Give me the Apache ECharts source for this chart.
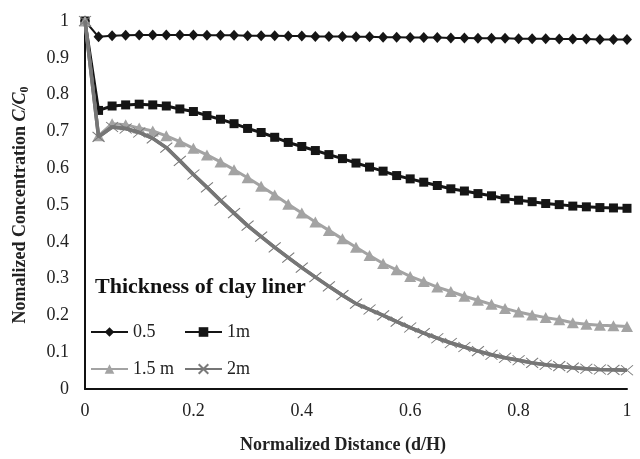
<!DOCTYPE html>
<html>
<head>
<meta charset="utf-8">
<script src="https://cdn.jsdelivr.net/npm/echarts@6/dist/echarts.min.js"></script>
<style>html,body{margin:0;padding:0;background:#fff}#c{width:640px;height:459px}</style>
</head>
<body>
<div id="c"></div>
<script>
var xValues = [0, 0.025, 0.05, 0.075, 0.1, 0.125, 0.15, 0.175, 0.2, 0.225, 0.25, 0.275, 0.3, 0.325, 0.35, 0.375, 0.4, 0.425, 0.45, 0.475, 0.5, 0.525, 0.55, 0.575, 0.6, 0.625, 0.65, 0.675, 0.7, 0.725, 0.75, 0.775, 0.8, 0.825, 0.85, 0.875, 0.9, 0.925, 0.95, 0.975, 1];
var s05 = [1, .957, .960, .961, .962, .962, .962, .962, .962, .961, .961, .961, .960, .960, .960, .959, .959, .958, .958, .958, .957, .957, .956, .956, .955, .955, .955, .954, .954, .953, .953, .953, .952, .952, .952, .951, .951, .951, .950, .950, .950];
var s1m = [1, .757, .769, .772, .774, .772, .769, .761, .754, .743, .733, .721, .708, .697, .684, .670, .659, .648, .637, .626, .614, .603, .592, .580, .571, .562, .553, .544, .538, .531, .525, .517, .513, .509, .504, .501, .497, .495, .493, .492, .491];
var s15 = [1, .688, .721, .718, .709, .701, .688, .672, .654, .636, .617, .596, .574, .551, .527, .502, .478, .454, .431, .408, .385, .363, .341, .324, .306, .292, .277, .265, .252, .241, .230, .219, .209, .201, .194, .188, .180, .176, .173, .172, .170];
var s2m = [1, .685, .712, .708, .697, .681, .656, .620, .583, .548, .512, .478, .444, .414, .385, .357, .330, .304, .279, .255, .232, .216, .200, .183, .167, .152, .138, .125, .114, .103, .093, .085, .078, .071, .066, .062, .058, .055, .053, .052, .051];
var seriesNames = ['0.5', '1m', '1.5 m', '2m'];
var legendTitle = 'Thickness of clay liner';
var xTicks = [0, 0.2, 0.4, 0.6, 0.8, 1];

function pairs(ys) { return xValues.map(function (x, i) { return [x, ys[i]]; }); }

var FONT = '"Liberation Serif", "Times New Roman", serif';
var crossPath = 'path://M0,0L10,10M10,0L0,10';

var chart = echarts.init(document.getElementById('c'), null, {renderer: 'canvas'});
var legendText = {fontFamily: FONT, fontSize: 18, color: '#222'};
function leg(name, left, top) {
  return {data: [name], left: left, top: top, itemWidth: 37, itemHeight: 12, padding: 0,
    textStyle: legendText, selectedMode: false};
}
chart.setOption({
  animation: false,
  backgroundColor: '#fff',
  title: {text: legendTitle, left: 95, top: 276, padding: 0,
    textStyle: {fontFamily: FONT, fontSize: 22, fontWeight: 'bold', color: '#111'}},
  legend: [leg(seriesNames[0], 90, 323), leg(seriesNames[1], 184, 323),
           leg(seriesNames[2], 90, 360), leg(seriesNames[3], 184, 360)],
  grid: {left: 85, right: 13, top: 21, bottom: 65, containLabel: false},
  xAxis: {
    type: 'value', min: 0, max: 1, interval: 0.2,
    name: 'Normalized Distance (d/H)', nameLocation: 'middle', nameGap: 47,
    nameTextStyle: {fontFamily: FONT, fontSize: 18, fontWeight: 'bold', color: '#222', padding: [0, 26, 0, 0]},
    axisLine: {show: true, onZero: false, lineStyle: {color: '#111', width: 2}},
    axisTick: {show: false}, splitLine: {show: false},
    axisLabel: {fontFamily: FONT, fontSize: 18, color: '#222', margin: 13,
      formatter: function (v) { return xTicks.indexOf(+v.toFixed(2)) >= 0 ? String(+v.toFixed(2)) : ''; }}
  },
  yAxis: {
    type: 'value', min: 0, max: 1, interval: 0.1,
    name: '{b|Nomalized Concentration }{i|C/C}{s|0}', nameLocation: 'middle', nameGap: 54,
    nameTextStyle: {fontFamily: FONT, fontSize: 18, fontWeight: 'bold', color: '#222',
      rich: {
        b: {fontFamily: FONT, fontSize: 18, fontWeight: 'bold', color: '#222', lineHeight: 21},
        i: {fontFamily: FONT, fontSize: 18, fontWeight: 'bold', fontStyle: 'italic', color: '#222', lineHeight: 21},
        s: {fontFamily: FONT, fontSize: 12, fontWeight: 'bold', color: '#222', lineHeight: 12, verticalAlign: 'bottom'}
      }},
    axisLine: {show: true, lineStyle: {color: '#111', width: 2}},
    axisTick: {show: false}, splitLine: {show: false},
    axisLabel: {fontFamily: FONT, fontSize: 18, color: '#222', margin: 16,
      formatter: function (v) { return String(+v.toFixed(1)); }}
  },
  series: [
    {name: seriesNames[0], type: 'line', data: pairs(s05), symbol: 'diamond', symbolSize: [10, 11],
      showAllSymbol: true, lineStyle: {color: '#151515', width: 2}, itemStyle: {color: '#151515'}, z: 2},
    {name: seriesNames[1], type: 'line', data: pairs(s1m), symbol: 'rect', symbolSize: 9,
      showAllSymbol: true, lineStyle: {color: '#151515', width: 3}, itemStyle: {color: '#151515'}, z: 3},
    {name: seriesNames[2], type: 'line', data: pairs(s15), symbol: 'triangle', symbolSize: [12, 11],
      showAllSymbol: true, lineStyle: {color: '#a3a3a3', width: 3}, itemStyle: {color: '#a3a3a3'}, z: 4},
    {name: seriesNames[3], type: 'line', data: pairs(s2m), symbol: crossPath, symbolSize: [12, 10],
      showAllSymbol: true, lineStyle: {color: '#767676', width: 3.5},
      itemStyle: {color: 'none', borderColor: '#7a7a7a', borderWidth: 1}, z: 5},
    {name: '2m-line', type: 'line', data: pairs(s2m), symbol: 'none', silent: true,
      lineStyle: {color: '#767676', width: 3.5}, z: 6}
  ]
});
</script>
</body>
</html>
